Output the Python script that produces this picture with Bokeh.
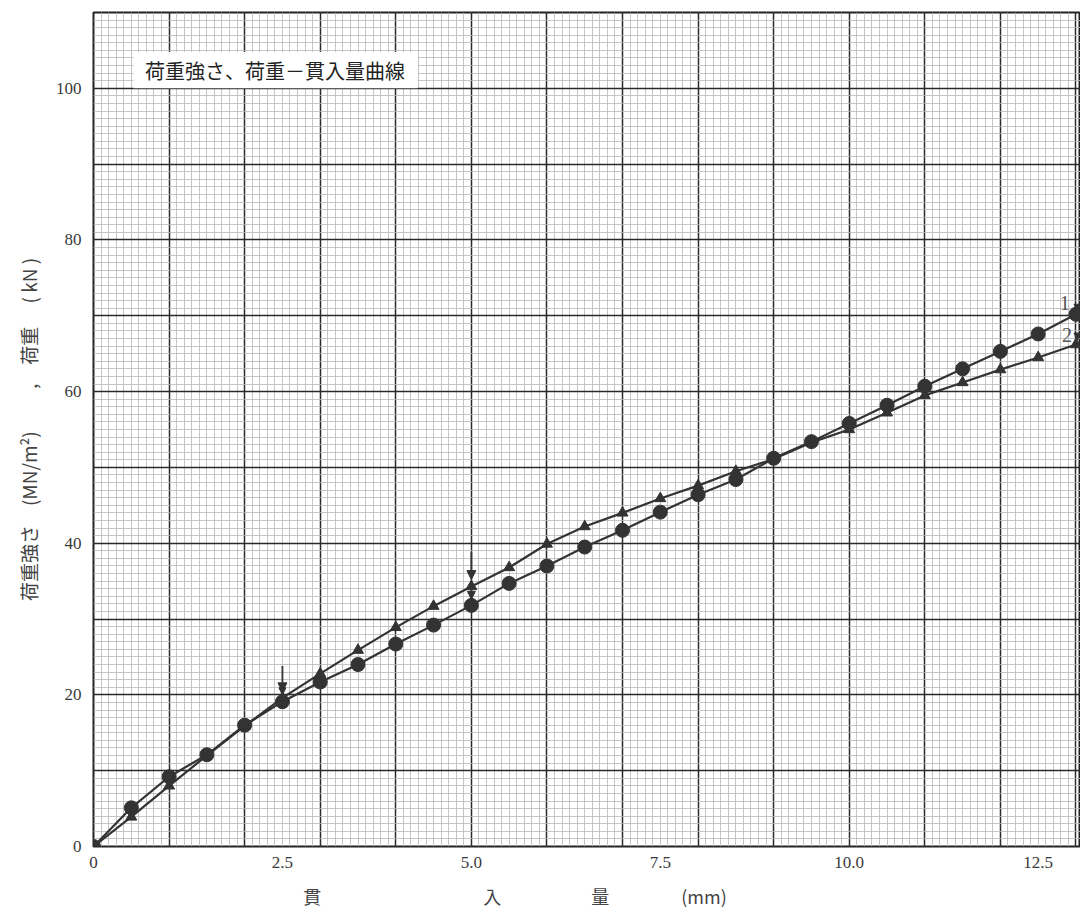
from bokeh.plotting import figure
from bokeh.models import (Range1d, FixedTicker, SingleIntervalTicker, CustomJSTickFormatter,
                          Label, BoxAnnotation, Arrow, NormalHead)
from bokeh.embed import file_html
from bokeh.resources import INLINE

# ---- data ----
penetration = [0.0, 0.5, 1.0, 1.5, 2.0, 2.5, 3.0, 3.5, 4.0, 4.5, 5.0, 5.5, 6.0, 6.5,
               7.0, 7.5, 8.0, 8.5, 9.0, 9.5, 10.0, 10.5, 11.0, 11.5, 12.0, 12.5, 13.0]
series1 = [0.0, 5.1, 9.2, 12.1, 16.0, 19.1, 21.7, 24.0, 26.7, 29.2, 31.8, 34.7, 37.0, 39.5,
           41.7, 44.1, 46.4, 48.4, 51.2, 53.4, 55.8, 58.2, 60.7, 63.0, 65.3, 67.6, 70.2]
series2 = [0.0, 3.9, 8.0, 12.0, 15.9, 19.6, 22.8, 25.9, 28.9, 31.7, 34.3, 36.8, 39.9, 42.2,
           44.0, 45.9, 47.6, 49.5, 51.1, 53.3, 55.0, 57.2, 59.5, 61.2, 62.9, 64.5, 66.2]
x_ticks = [0, 2.5, 5.0, 7.5, 10.0, 12.5]
y_ticks = [0, 20, 40, 60, 80, 100]
title_text = "荷重強さ、荷重－貫入量曲線"
y_label = "荷重強さ　(MN/m²)　　 ,　荷重　 ( kN )"
x_label = "貫" + "　" * 9 + "入" + "　" * 5 + "量" + "　" * 4 + "(mm)" + "　" * 8
series_names = ["1", "2"]

INK = "#333333"
SERIF = "Liberation Serif"
CJK = "Noto Sans CJK JP"

p = figure(width=1080, height=911, output_backend="svg", toolbar_location=None,
           x_range=Range1d(0, 13.06), y_range=Range1d(0, 110),
           min_border_left=93, min_border_right=0, min_border_top=12, min_border_bottom=64)
p.background_fill_color = "white"
p.border_fill_color = "white"
p.outline_line_color = "#222222"
p.outline_line_width = 2

# graph paper grid
p.xgrid.ticker = SingleIntervalTicker(interval=1, num_minor_ticks=10)
p.ygrid.ticker = SingleIntervalTicker(interval=10, num_minor_ticks=10)
for g in (p.xgrid, p.ygrid):
    g.grid_line_color = "#2a2a2a"
    g.grid_line_width = 1.5
    g.grid_line_alpha = 1.0
    g.minor_grid_line_color = "#b8b8b8"
    g.minor_grid_line_width = 0.8

# axes
p.xaxis.ticker = FixedTicker(ticks=x_ticks)
p.xaxis.formatter = CustomJSTickFormatter(code="return tick == 0 ? '0' : tick.toFixed(1);")
p.yaxis.ticker = FixedTicker(ticks=y_ticks)
for ax in (p.xaxis, p.yaxis):
    ax.axis_line_color = None
    ax.major_tick_line_color = None
    ax.minor_tick_line_color = None
    ax.major_label_text_font = SERIF
    ax.major_label_text_font_size = "17px"
    ax.major_label_text_color = "#3a3a3a"
    ax.major_label_standoff = 6
    ax.axis_label_text_font = CJK
    ax.axis_label_text_font_size = "18px"
    ax.axis_label_text_font_style = "normal"
    ax.axis_label_text_color = "#444444"
p.xaxis.major_label_standoff = 4
p.yaxis.axis_label = y_label
p.yaxis.axis_label_text_font_size = "19px"
p.yaxis.axis_label_standoff = 11
p.xaxis.axis_label = x_label
p.xaxis.axis_label_standoff = 12

# curves
p.line(penetration, series1, line_color=INK, line_width=2.2)
p.line(penetration, series2, line_color=INK, line_width=2.2)
p.scatter(penetration, series1, marker="circle", size=14, fill_color=INK, line_color=INK)
p.scatter(penetration, series2, marker="triangle", size=11, fill_color=INK, line_color=INK)

# arrows marking 2.5 mm and 5.0 mm
def arrow(x, y0, y1, size=9):
    p.add_layout(Arrow(end=NormalHead(size=size, fill_color=INK, line_color=INK),
                       x_start=x, y_start=y0, x_end=x, y_end=y1,
                       line_color=INK, line_width=1.8))
arrow(2.5, 23.8, 20.4)
arrow(2.5, 21.5, 20.0, size=7)
arrow(5.0, 38.8, 35.2)
arrow(5.0, 35.0, 32.6, size=8)
arrow(13.02, 71.5, 70.6, size=7)
arrow(13.02, 67.6, 66.8, size=7)

# series numbers
p.add_layout(Label(x=12.85, y=71.7, text=series_names[0], text_font=SERIF, text_font_size="20px",
                   text_color="#555555", text_align="center", text_baseline="middle"))
p.add_layout(Label(x=12.88, y=67.5, text=series_names[1], text_font=SERIF, text_font_size="20px",
                   text_color="#555555", text_align="center", text_baseline="middle"))

# title box
p.add_layout(BoxAnnotation(left=0.53, right=4.29, bottom=100, top=104.8,
                           fill_color="white", fill_alpha=1.0, line_color=None))
p.add_layout(Label(x=0.68, y=102.4, text=title_text, text_font=CJK, text_font_size="20px",
                   text_color="#222222", text_baseline="middle"))

open("out.html", "w").write(file_html(p, INLINE))
